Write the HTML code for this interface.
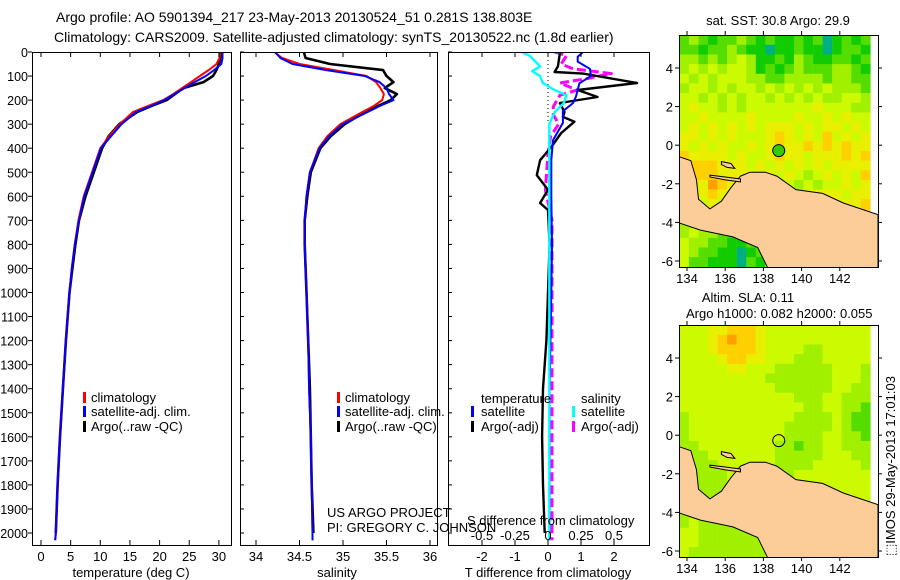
<!DOCTYPE html>
<html><head><meta charset="utf-8">
<style>
html,body{margin:0;padding:0;background:#fff;}
svg{display:block;font-family:"Liberation Sans",sans-serif;}
text{font-size:13px;fill:#000;}
</style></head>
<body>
<svg id="chart" width="900" height="580" viewBox="0 0 900 580">
<defs>
<clipPath id="c1"><rect x="32" y="52" width="199" height="493"/></clipPath>
<clipPath id="c2"><rect x="240" y="52" width="197" height="493"/></clipPath>
<clipPath id="c3"><rect x="448" y="52" width="201" height="493"/></clipPath>
<clipPath id="m1"><rect x="679" y="35" width="199" height="232"/></clipPath>
<clipPath id="m2"><rect x="679" y="325" width="199" height="232"/></clipPath>
</defs>
<text x="56" y="22" style="font-size:14px">Argo profile: AO 5901394_217 23-May-2013 20130524_51 0.281S 138.803E</text>
<text x="54" y="42" style="font-size:14px">Climatology: CARS2009. Satellite-adjusted climatology: synTS_20130522.nc (1.8d earlier)</text>
<g id="g1" clip-path="url(#c1)"></g>
<g id="g2" clip-path="url(#c2)"></g>
<g id="g3" clip-path="url(#c3)"></g>
<g id="gm1" clip-path="url(#m1)"></g>
<g id="gm2" clip-path="url(#m2)"></g>
<g id="axes"></g>
<text x="131" y="577" text-anchor="middle">temperature (deg C)</text>
<text x="337" y="577" text-anchor="middle">salinity</text>
<text x="548" y="577" text-anchor="middle">T difference from climatology</text>
<text x="467" y="525">S difference from climatology</text>
<text x="327" y="517">US ARGO PROJECT</text>
<text x="327" y="532">PI: GREGORY C. JOHNSON</text>
<g>
<rect x="83" y="392" width="3" height="11" fill="#f00"/><text x="91" y="402">climatology</text>
<rect x="83" y="406" width="3" height="11" fill="#00f"/><text x="91" y="416">satellite-adj. clim.</text>
<rect x="83" y="421" width="3" height="11" fill="#000"/><text x="91" y="431">Argo(..raw -QC)</text>
</g>
<g>
<rect x="337" y="392" width="3" height="11" fill="#f00"/><text x="345" y="402">climatology</text>
<rect x="337" y="406" width="3" height="11" fill="#00f"/><text x="345" y="416">satellite-adj. clim.</text>
<rect x="337" y="421" width="3" height="11" fill="#000"/><text x="345" y="431">Argo(..raw -QC)</text>
</g>
<g>
<text x="481" y="403">temperature</text>
<rect x="471" y="406" width="3" height="11" fill="#00f"/><text x="481" y="416">satellite</text>
<rect x="471" y="421" width="3" height="11" fill="#000"/><text x="481" y="431">Argo(-adj)</text>
<text x="581" y="403">salinity</text>
<rect x="572" y="406" width="3" height="11" fill="#0ff"/><text x="581" y="416">satellite</text>
<rect x="572" y="421" width="3" height="11" fill="#f0f"/><text x="581" y="431">Argo(-adj)</text>
</g>
<text x="778" y="25" text-anchor="middle">sat. SST: 30.8 Argo: 29.9</text>
<text x="748" y="302" text-anchor="middle">Altim. SLA: 0.11</text>
<text x="686" y="318">Argo h1000: 0.082 h2000: 0.055</text>
<text transform="translate(895,556) rotate(-90)">⬚IMOS 29-May-2013 17:01:03</text>
</svg>
<script>
// ---- profile data ----
const depthT = [0,25,50,75,100,125,150,175,200,225,250,300,350,400,500,600,700,800,900,1000,1200,1400,1600,1800,2000,2030];
const tempClim = [30.2,30.1,29.6,28.3,26.8,25.3,23.8,22.3,20.6,18.0,15.5,13.3,11.5,10.0,8.6,7.2,6.3,5.7,5.2,4.8,4.2,3.7,3.2,2.8,2.5,2.4];
const tempSat = [30.6,30.6,30.4,29.2,27.8,25.9,24.2,22.5,20.8,18.5,16.0,13.6,11.8,10.1,8.7,7.3,6.4,5.7,5.2,4.8,4.2,3.7,3.2,2.8,2.5,2.4];
const tempArgo = [30.3,30.2,30.0,29.6,29.0,27.4,24.0,22.6,21.2,18.6,16.2,13.2,11.4,10.3,8.9,7.5,6.4,5.8,5.3,4.8,4.2,3.7,3.2,2.8,2.5];
const salClim = [34.21,34.3,34.5,34.89,35.27,35.38,35.43,35.47,35.45,35.35,35.22,34.97,34.82,34.72,34.62,34.58,34.56,34.56,34.57,34.58,34.6,34.61,34.63,34.64,34.65,34.65];
const salSat = [34.22,34.28,34.42,34.8,35.25,35.42,35.5,35.53,35.58,35.42,35.28,35.0,34.84,34.73,34.62,34.58,34.56,34.56,34.57,34.58,34.6,34.61,34.63,34.64,34.65,34.65];
const salArgo = [34.55,34.57,34.85,35.46,35.5,35.58,35.48,35.62,35.55,35.4,35.25,35.02,34.86,34.74,34.63,34.59,34.56,34.56,34.57,34.58,34.6,34.62,34.63,34.64,34.66];
const depthTdArgo = [0,5,60,83,90,129,158,187,212,250,270,290,337,395,450,512,573,628,657,800,1000,1200,1400,1600,1800,2000];
const tDiffArgo = [0.4,0.36,0.3,0.2,1.06,2.7,0.9,1.5,0.36,0.5,0.45,0.8,0.4,0.1,-0.24,-0.34,0,-0.24,0,0.05,0,-0.05,-0.15,-0.18,-0.15,-0.1];
const depthTdSat = [0,20,40,70,100,130,158,185,212,246,295,367,450,600,800,1000,1400,1800,2030];
const tDiffSat = [1.06,0.9,0.9,1.27,1.3,0.95,0.9,0.85,0.76,0.45,0.45,0.15,0.1,0.1,0.12,0.1,0.05,0.05,0.05];
const depthSdArgo = [0,15,50,70,90,110,129,158,180,227,260,300,350,420,573,700,1000,1500,2030];
const sDiffArgo = [0.05,0.14,0.1,0.19,0.48,0.3,0.09,0.22,0.09,0.04,0.04,0.08,0.02,0,-0.02,0.03,0.03,0.03,0.03];
const depthSdSat = [0,15,60,80,100,129,158,180,212,250,300,500,1000,1500,2030];
const sDiffSat = [-0.2,-0.14,-0.06,-0.12,-0.06,-0.04,0.05,0.14,0.12,0.05,0.01,0.01,0.01,0.01,0.01];
const depthTicks = [0,100,200,300,400,500,600,700,800,900,1000,1100,1200,1300,1400,1500,1600,1700,1800,1900,2000];
const tempTicks = [0,5,10,15,20,25,30];
const salTicks = [34,34.5,35,35.5,36];
const salTickLabels = ["34","34.5","35","35.5","36"];
const tdTicks = [-2,-1,0,1,2];
const sdTicks = [-0.5,-0.25,0,0.25,0.5];
const sdTickLabels = ["-0.5","-0.25","0","0.25","0.5"];
const lonTicks = [134,136,138,140,142];
const latTicks = [4,2,0,-2,-4,-6];
// ---- map grids (0.5 deg, rows from 5.7N southward, cols from 133.6E) ----
const sstRows = ["23212232121121201212","22122321101121101221","33232343112132112212","34343443121232223321","43434443322333323322","34434344343434343332","44343434434343433443","45443434444444544433","44544445444454454544","45454545455545455454","55454544456545464545","54545445456556565655","65555454456554555656","66665554545454545555","56665555454543454546","55576554545434344545","45565555555455555455","44454555555555555556","44445555555555555556","33444555555555555556","34332212555555555555","43322112355555555555","43221101265555555555","42211102165555555555"];
const slaRows = ["44455666544444444444","44456766544444444444","44456666544443344444","44445665544433344444","44444554443333334443","44444444433333334443","44444444443333334433","44444444444433344333","44444444444443344332","34444444444433334322","34444444444333334322","34444444444333344332","33444444443323344333","33344444443333344433","33334444443333444443","33333444444344444444","33333444444444444444","33333334444444444444","33333333444444444444","33333333444444444444","34333333333444444444","44333333333344444444","44333333334444444444","43333333344444444444"];
const palette = ["#00b080","#11cc00","#55dd00","#a0f000","#ccfa00","#e8f000","#ffd000","#ffa000"];
const landMain = [[133.6,-0.6],[134.2,-0.8],[134.5,-1.8],[134.6,-2.8],[135.2,-3.3],[135.8,-2.9],[136.3,-2.2],[136.8,-1.6],[137.3,-1.4],[138.1,-1.4],[138.7,-1.6],[139.7,-2.3],[141.1,-2.5],[142.2,-3.0],[144,-3.6],[144,-6.5],[138.3,-6.5],[137.7,-5.3],[136.4,-4.75],[134.7,-4.4],[133.5,-4.0],[133.5,-0.6]];
const landYapen = [[135.2,-1.55],[136.0,-1.65],[136.8,-1.75],[136.8,-1.9],[136.0,-1.8],[135.2,-1.65]];
const landBiak = [[135.8,-0.85],[136.3,-0.95],[136.5,-1.2],[136.1,-1.15],[135.8,-1.0]];
const argoLon = 138.803, argoLat = -0.281;

const NS = "http://www.w3.org/2000/svg";
function el(tag, attrs, parent){const e=document.createElementNS(NS,tag);for(const k in attrs)e.setAttribute(k,attrs[k]);parent.appendChild(e);return e;}
const yD = d => 52 + d*0.2405;
const xT = t => 41 + t*5.93;
const xS = s => 256 + (s-34)*87;
const xTd = t => 548 + t*33;
const xSd = s => 548 + s*132;
const lonX = lon => 687 + (lon-134)*19.1;
const latY = (lat,off) => off + 68 - (lat-4)*19.3;

function line(g, xs, ds, sx, color, w, dash){
  let d="";
  for(let i=0;i<xs.length;i++){d+=(i?"L":"M")+sx(xs[i]).toFixed(1)+","+yD(ds[i]).toFixed(1);}
  const p=el('path',{d:d,fill:'none',stroke:color,'stroke-width':w,'stroke-linejoin':'round'},g);
  if(dash)p.setAttribute('stroke-dasharray',dash);
  return p;
}
const g1=document.getElementById('g1'),g2=document.getElementById('g2'),g3=document.getElementById('g3');
let p;
p=line(g1,tempArgo,depthT,xT,'#000',2.6);


p=line(g1,tempClim,depthT,xT,'#f00',2);


p=line(g1,tempSat,depthT,xT,'#00f',2);


p=line(g2,salArgo,depthT,xS,'#000',2.6);


p=line(g2,salClim,depthT,xS,'#f00',2);


p=line(g2,salSat,depthT,xS,'#00f',2);


p=el('line',{x1:xTd(0),x2:xTd(0),y1:52,y2:yD(300),stroke:'#000','stroke-dasharray':'1 3'},g3);


p=line(g3,sDiffArgo,depthSdArgo,xSd,'#f0f',3,'9 4');


p=line(g3,tDiffArgo,depthTdArgo,xTd,'#000',2.4);


p=line(g3,tDiffSat,depthTdSat,xTd,'#00f',2);


p=line(g3,sDiffSat,depthSdSat,xSd,'#0ff',2.4);



// maps
function drawMap(g, rows, off, filled){
  for(let j=0;j<rows.length;j++){
    for(let i=0;i<rows[j].length;i++){
      const lon=133.6+0.5*i, lat=5.7-0.5*j;
      const x=lonX(lon), y=latY(lat,off);
      const r=el('rect',{x:x.toFixed(1),y:y.toFixed(1),width:9.8,height:10,fill:palette[+rows[j][i]]},g);
      
      
    }
  }
  [landMain,landYapen,landBiak].forEach(poly=>{
    const pts=poly.map(q=>lonX(q[0]).toFixed(1)+","+latY(q[1],off).toFixed(1)).join(" ");
    const pg=el('polygon',{points:pts,fill:'#fccc99',stroke:'#000','stroke-width':1},g);
    
    
  });
  const c=el('circle',{cx:lonX(argoLon),cy:latY(argoLat,off),r:6,fill:filled?'#33cc00':'none',stroke:'#000','stroke-width':1},g);
  
  
}
drawMap(document.getElementById('gm1'),sstRows,0,true);
drawMap(document.getElementById('gm2'),slaRows,290,false);

// axes
const ax=document.getElementById('axes');
function frame(x,y,w,h,name){const r=el('rect',{x:x,y:y,width:w,height:h,fill:'none',stroke:'#000','stroke-width':1},ax);

}
frame(32.5,52.5,199,493,'temperature-panel-frame');
frame(240.5,52.5,197,493,'salinity-panel-frame');
frame(448.5,52.5,201,493,'difference-panel-frame');
frame(679.5,35.5,199,232,'sst-map-frame');
frame(679.5,325.5,199,232,'sla-map-frame');
function txt(x,y,s,anchor,name){const t=el('text',{x:x,y:y,'text-anchor':anchor},ax);t.textContent=s;

return t;}
function tick(x1,y1,x2,y2){el('line',{x1:x1,y1:y1,x2:x2,y2:y2,stroke:'#000'},ax);}
depthTicks.forEach(d=>{const y=yD(d);tick(28,y,32,y);tick(240,y,244,y);tick(448,y,452,y);const t=txt(28,y+5,String(d),'end','depth-tick-label');t.setAttribute('style','font-size:12.5px');});
tempTicks.forEach(t=>{const x=xT(t);tick(x,545,x,540);tick(x,52,x,57);txt(x,561,String(t),'middle','temp-tick-label');});
salTicks.forEach((s,i)=>{const x=xS(s);tick(x,545,x,540);tick(x,52,x,57);txt(x,561,salTickLabels[i],'middle','sal-tick-label');});
tdTicks.forEach(t=>{const x=xTd(t);tick(x,545,x,540);tick(x,52,x,57);txt(x,561,String(t),'middle','t-diff-tick-label');});
sdTicks.forEach((s,i)=>{const x=xSd(s);txt(x,540,sdTickLabels[i],'middle','s-diff-tick-label');});
[0,290].forEach(off=>{
  const by=off===0?267:557, ty=off===0?35:325;
  lonTicks.forEach(l=>{const x=lonX(l);tick(x,by,x,by+4);tick(x,ty,x,ty-4);txt(x,by+16,String(l),'middle','lon-tick-label');});
  latTicks.forEach(l=>{const y=latY(l,off);tick(675,y,679,y);tick(878,y,882,y);txt(673,y+5,String(l),'end','lat-tick-label');});
});
</script>
</body></html>
